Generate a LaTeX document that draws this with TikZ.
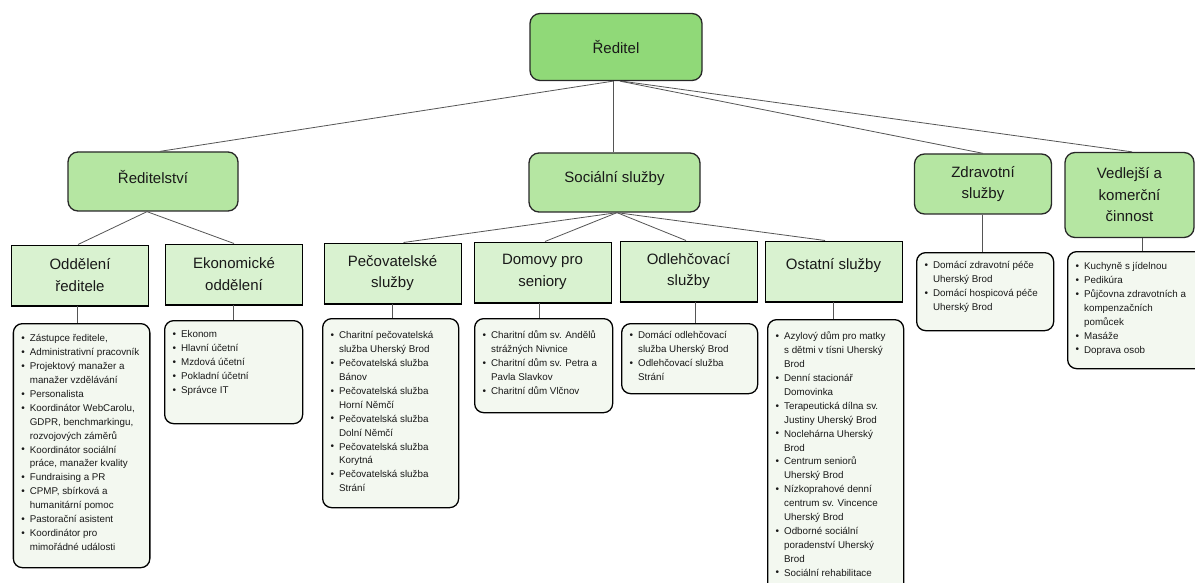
\documentclass[tikz,border=0pt]{standalone}
\usepackage{fontspec}
\setmainfont{Liberation Sans}
\usetikzlibrary{calc}
\definecolor{c0}{RGB}{144,217,120}
\definecolor{c1}{RGB}{181,230,162}
\definecolor{c3}{RGB}{217,242,208}
\definecolor{cl}{RGB}{243,248,240}
\definecolor{bd}{RGB}{40,40,40}
\definecolor{lnc}{RGB}{85,85,85}
\definecolor{tc}{RGB}{25,25,25}
\newcommand\blt{\raisebox{0.3pt}{\fontsize{10}{10}\selectfont\textbullet}}
\newcommand\lstitem[1]{\par\mbox{\strut\makebox[8.5pt][l]{\blt}#1}}
\newcommand\lstcont[1]{\par\mbox{\strut\hspace*{8.5pt}#1}}
\newcommand\mylist[4]{\parbox[c][#1][t]{#2}{\fontsize{9.8}{13.9}\selectfont\leftskip=8pt\parindent=0pt\parskip=0pt\vspace*{#3}#4\par}}
\newcommand\upby[2]{\raisebox{#1}[\height][\depth]{#2}}
\begin{document}
\begin{tikzpicture}[x=1pt,y=-1pt,
  hfont/.style={font=\fontsize{15}{21.5}\selectfont, text=tc, align=center},
  b0/.style={hfont, draw=bd, line width=1.3pt, fill=c0, rounded corners=10pt, inner sep=0pt, minimum width=172pt, minimum height=67pt},
  b1/.style={hfont, draw=bd, line width=1.3pt, fill=c1, rounded corners=10pt, inner sep=0pt},
  b3/.style={hfont, draw=black, line width=1pt, fill=c3, inner sep=0pt, minimum width=137pt, minimum height=60pt},
  lst/.style={draw=black, line width=1.3pt, fill=cl, rounded corners=9pt, inner sep=0pt, anchor=north west, text=tc},
  conn/.style={draw=lnc, line width=0.8pt}]
\useasboundingbox (0,0) rectangle (1195,583);
\clip (0,0) rectangle (1195,583);
\fill[white] (0,0) rectangle (1195,583);

% level 0
\node[b0] (r) at (616,47) {Ředitel};
% level 1
\node[b1, minimum width=170pt, minimum height=59pt] (rs) at (153,181.5) {\upby{4pt}{Ředitelství}};
\node[b1, minimum width=171pt, minimum height=59pt] (ss) at (614.5,182.5) {\upby{4pt}{Sociální služby}};
\node[b1, minimum width=137pt, minimum height=60pt] (zs) at (983,184) {Zdravotní\\služby};
\node[b1, minimum width=129pt, minimum height=85pt] (vk) at (1129.5,195) {Vedlejší a\\komerční\\činnost};
% level 3
\node[b3] (od) at (80,275) {Oddělení\\ředitele};
\node[b3] (ek) at (234,274) {Ekonomické\\oddělení};
\node[b3] (pe) at (392.5,273) {Pečovatelské\\služby};
\node[b3] (dm) at (542.5,272) {Domovy pro\\seniory};
\node[b3] (oh) at (688.5,271) {Odlehčovací\\služby};
\node[b3] (os) at (833.5,271) {\upby{5pt}{Ostatní služby}};
\foreach \n in {od,ek,pe,dm,oh,os}{
  \draw[line width=2pt, black] (\n.south west) -- (\n.south east);
}

% lists
\node[lst] (odl) at (12.7,323) {\mylist{244pt}{136.5pt}{8.5pt}{%
\lstitem{Zástupce ředitele,}
\lstitem{Administrativní pracovník}
\lstitem{Projektový manažer a}
\lstcont{manažer vzdělávání}
\lstitem{Personalista}
\lstitem{Koordinátor WebCarolu,}
\lstcont{GDPR, benchmarkingu,}
\lstcont{rozvojových záměrů}
\lstitem{Koordinátor sociální}
\lstcont{práce, manažer kvality}
\lstitem{Fundraising a PR}
\lstitem{CPMP, sbírková a}
\lstcont{humanitární pomoc}
\lstitem{Pastorační asistent}
\lstitem{Koordinátor pro}
\lstcont{mimořádné události}}};

\node[lst] (ekl) at (164,320) {\mylist{103pt}{138pt}{7.5pt}{%
\lstitem{Ekonom}
\lstitem{Hlavní účetní}
\lstitem{Mzdová účetní}
\lstitem{Pokladní účetní}
\lstitem{Správce IT}}};

\node[lst] (pel) at (322,318) {\mylist{189pt}{136pt}{10.5pt}{%
\lstitem{Charitní pečovatelská}
\lstcont{služba Uherský Brod}
\lstitem{Pečovatelská služba}
\lstcont{Bánov}
\lstitem{Pečovatelská služba}
\lstcont{Horní Němčí}
\lstitem{Pečovatelská služba}
\lstcont{Dolní Němčí}
\lstitem{Pečovatelská služba}
\lstcont{Korytná}
\lstitem{Pečovatelská služba}
\lstcont{Strání}}};

\node[lst] (dml) at (474,318) {\mylist{94pt}{138pt}{10.5pt}{%
\lstitem{Charitní dům sv. Andělů}
\lstcont{strážných Nivnice}
\lstitem{Charitní dům sv. Petra a}
\lstcont{Pavla Slavkov}
\lstitem{Charitní dům Vlčnov}}};

\node[lst] (ohl) at (621,323) {\mylist{70pt}{136pt}{5.5pt}{%
\lstitem{Domácí odlehčovací}
\lstcont{služba Uherský Brod}
\lstitem{Odlehčovací služba}
\lstcont{Strání}}};

\node[lst] (osl) at (767,319) {\mylist{280pt}{136pt}{10.5pt}{%
\lstitem{Azylový dům pro matky}
\lstcont{s dětmi v tísni Uherský}
\lstcont{Brod}
\lstitem{Denní stacionář}
\lstcont{Domovinka}
\lstitem{Terapeutická dílna sv.}
\lstcont{Justiny Uherský Brod}
\lstitem{Noclehárna Uherský}
\lstcont{Brod}
\lstitem{Centrum seniorů}
\lstcont{Uherský Brod}
\lstitem{Nízkoprahové denní}
\lstcont{centrum sv. Vincence}
\lstcont{Uherský Brod}
\lstitem{Odborné sociální}
\lstcont{poradenství Uherský}
\lstcont{Brod}
\lstitem{Sociální rehabilitace}}};

\node[lst] (zsl) at (916,252) {\mylist{78pt}{137pt}{6.5pt}{%
\lstitem{Domácí zdravotní péče}
\lstcont{Uherský Brod}
\lstitem{Domácí hospicová péče}
\lstcont{Uherský Brod}}};

\node[lst] (vkl) at (1067,251) {\mylist{117pt}{140pt}{8.5pt}{%
\lstitem{Kuchyně s jídelnou}
\lstitem{Pedikúra}
\lstitem{Půjčovna zdravotních a}
\lstcont{kompenzačních}
\lstcont{pomůcek}
\lstitem{Masáže}
\lstitem{Doprava osob}}};

% connectors level 0 -> 1
\draw[conn] ([xshift=-3pt]r.south) -- ([xshift=7pt]rs.north);
\draw[conn] ([xshift=-3pt]r.south) -- ([xshift=-3pt]r.south |- ss.north);
\draw[conn] ([xshift=4pt]r.south) -- (zs.north);
\draw[conn] ([xshift=6pt]r.south) -- ([xshift=2.5pt]vk.north);
% level 1 -> 3
\draw[conn] ([xshift=-6pt]rs.south) -- ([xshift=-2pt]od.north);
\draw[conn] ([xshift=-6pt]rs.south) -- (ek.north);
\draw[conn] ([xshift=2.5pt]ss.south) -- ([xshift=11pt]pe.north);
\draw[conn] ([xshift=2.5pt]ss.south) -- ([xshift=2.5pt]dm.north);
\draw[conn] ([xshift=2.5pt]ss.south) -- ([xshift=-2.5pt]oh.north);
\draw[conn] ([xshift=2.5pt]ss.south) -- ([xshift=-8.5pt]os.north);
% to lists
\draw[conn] ([xshift=-3pt]od.south) -- ([xshift=-3pt]od.south |- odl.north);
\draw[conn] ([xshift=-1pt]ek.south) -- ([xshift=-1pt]ek.south |- ekl.north);
\draw[conn] (pe.south) -- (pe.south |- pel.north);
\draw[conn] ([xshift=-3.5pt]dm.south) -- ([xshift=-3.5pt]dm.south |- dml.north);
\draw[conn] ([xshift=6.5pt]oh.south) -- ([xshift=6.5pt]oh.south |- ohl.north);
\draw[conn] (os.south) -- (os.south |- osl.north);
\draw[conn] ([xshift=-1pt]zs.south) -- ([xshift=-1pt]zs.south |- zsl.north);
\draw[conn] ([xshift=12.5pt]vk.south) -- ([xshift=12.5pt]vk.south |- vkl.north);
\end{tikzpicture}
\end{document}
